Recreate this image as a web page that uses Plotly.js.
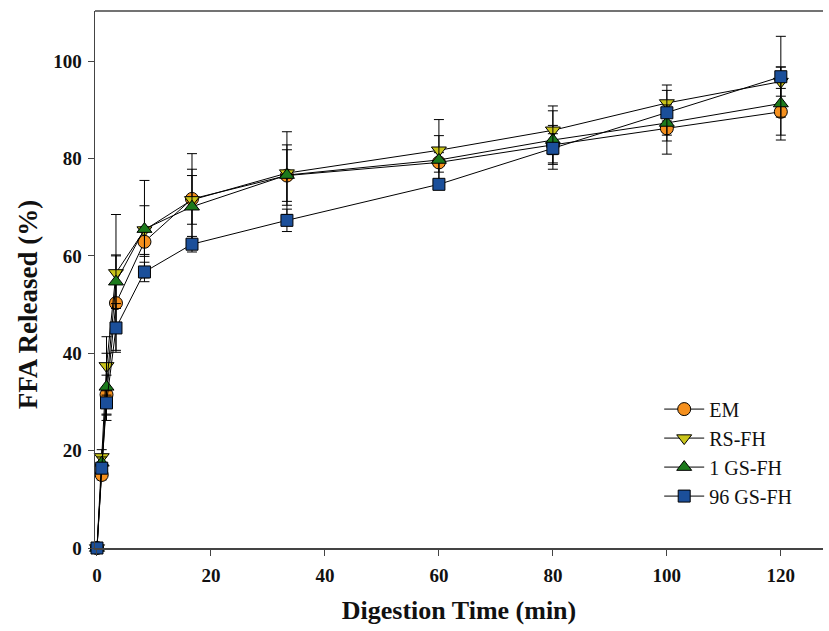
<!DOCTYPE html>
<html>
<head>
<meta charset="utf-8">
<script src="https://cdn.plot.ly/plotly-3.0.1.min.js"></script>
<style>html,body{margin:0;padding:0;background:#fff;}#chart{width:829px;height:631px;}</style>
</head>
<body>
<div id="chart"></div>
<script>
const time = [0, 0.83, 1.67, 3.33, 8.33, 16.67, 33.33, 60, 80, 100, 120];

const seriesNames = ["EM", "RS-FH", "1 GS-FH", "96 GS-FH"];
const emValues   = [0, 15.0, 31.5, 50.3, 62.9, 71.7, 76.5, 79.2, 82.8, 86.2, 89.6];
const rsValues   = [0, 18.7, 37.4, 56.5, 65.3, 71.5, 77.0, 81.7, 85.8, 91.4, 95.8];
const gs1Values  = [0, 17.5, 33.1, 54.7, 65.5, 70.1, 76.6, 79.7, 83.8, 87.3, 91.3];
const gs96Values = [0, 16.4, 29.8, 45.2, 56.7, 62.4, 67.3, 74.7, 82.1, 89.4, 96.8];

const emErr   = [0, 1.0, 4.0, 9.7, 3.0, 9.3, 5.3, 2.0, 4.0, 5.3, 4.8];
const rsErr   = [0, 1.5, 6.0, 12.0, 5.0, 5.0, 8.5, 6.3, 5.0, 3.7, 3.0];
const gs1Err  = [0, 1.2, 6.9, 5.5, 10.0, 7.7, 6.2, 5.0, 6.0, 3.7, 7.5];
const gs96Err = [0, 1.0, 2.5, 5.0, 2.0, 1.6, 2.3, 1.0, 3.0, 4.6, 8.3];

const xTicks = [0, 20, 40, 60, 80, 100, 120];
const yTicks = [0, 20, 40, 60, 80, 100];
const xTitle = "Digestion Time (min)";
const yTitle = "FFA Released (%)";

const values = [emValues, rsValues, gs1Values, gs96Values];
const errs = [emErr, rsErr, gs1Err, gs96Err];
const symbols = ["circle", "triangle-down", "triangle-up", "square"];
const colors = ["#f5901e", "#c9c41a", "#1c7a1c", "#1b4f9a"];
const sizes = [13, 13, 13, 12];

const traces = seriesNames.map((name, i) => ({
  x: time, y: values[i], name: name, type: "scatter", mode: "lines+markers",
  cliponaxis: false,
  line: {color: "#000", width: 1},
  marker: {symbol: symbols[i], size: sizes[i], color: colors[i], line: {color: "#000", width: 1}},
  error_y: {type: "data", array: errs[i], visible: true, color: "#000", thickness: 1, width: 5}
}));

const serif = "Liberation Serif, Times New Roman, serif";
const layout = {
  width: 829, height: 631,
  margin: {l: 95, r: 6, t: 11, b: 83},
  paper_bgcolor: "#fff", plot_bgcolor: "#fff",
  showlegend: true,
  legend: {x: 0.775, y: 0.295, xanchor: "left", yanchor: "top",
    font: {family: serif, size: 20, color: "#111"}, bgcolor: "rgba(0,0,0,0)",
    tracegroupgap: 0, itemwidth: 40},
  xaxis: {
    range: [-0.35, 127.4], tickvals: xTicks, ticks: "outside", ticklen: 6, tickcolor: "#444",
    showline: true, linecolor: "#444", linewidth: 1.5, mirror: false, showgrid: false, zeroline: false,
    ticklabelstandoff: 4,
    tickfont: {family: serif, size: 19, color: "#111", weight: "bold"},
    title: {text: "<b>" + xTitle + "</b>", font: {family: serif, size: 26, color: "#111"}, standoff: 15}
  },
  yaxis: {
    range: [0, 110.3], tickvals: yTicks, ticks: "outside", ticklen: 6, tickcolor: "#444",
    showline: true, linecolor: "#444", linewidth: 1.5, showgrid: false, zeroline: false,
    ticklabelstandoff: 2,
    tickfont: {family: serif, size: 19, color: "#111", weight: "bold"}
  },
  annotations: [{
    text: "<b>" + yTitle + "</b>", xref: "paper", yref: "paper", x: -0.092, y: 0.452,
    xanchor: "center", yanchor: "middle", textangle: -90, showarrow: false,
    font: {family: serif, size: 27, color: "#111"}
  }],
  shapes: [{type: "line", xref: "paper", yref: "paper", x0: 0, x1: 1, y0: 1, y1: 1, line: {color: "#444", width: 1.5}}]
};

Plotly.newPlot("chart", traces, layout, {displayModeBar: false, staticPlot: true});
</script>
</body>
</html>
